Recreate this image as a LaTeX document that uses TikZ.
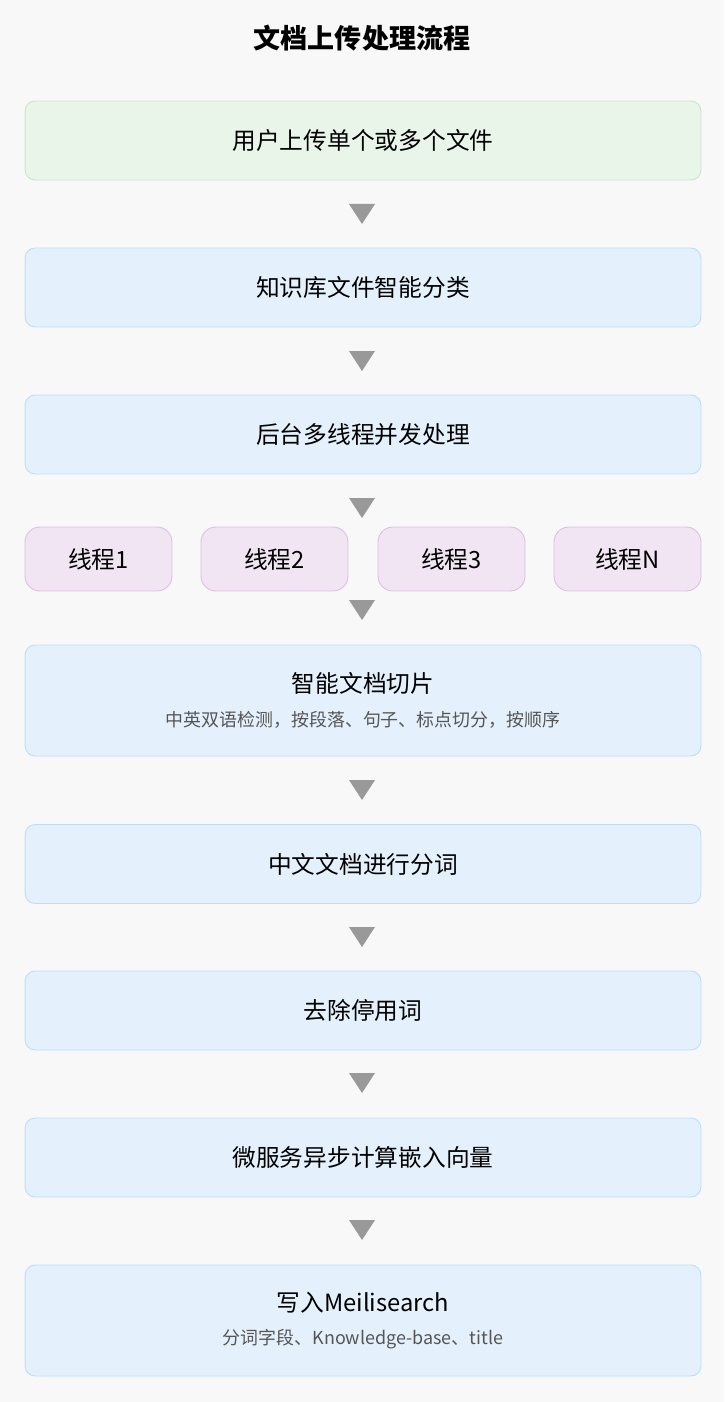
\documentclass[tikz,border=0pt]{standalone}
\usepackage{fontspec}
\setmainfont{Noto Sans CJK SC}
\usetikzlibrary{calc}
\definecolor{pagebg}{HTML}{F8F8F9}
\definecolor{greenfill}{HTML}{EAF5EA}
\definecolor{greenline}{HTML}{C8E6C9}
\definecolor{bluefill}{HTML}{E4F1FC}
\definecolor{blueline}{HTML}{BBDEFB}
\definecolor{purplefill}{HTML}{F1E5F4}
\definecolor{purpleline}{HTML}{DDBDE3}
\definecolor{tipgray}{HTML}{999999}
\definecolor{subgray}{HTML}{555555}

\begin{document}
\begin{tikzpicture}[x=.02cm,y=-.02cm,
  stage/.style={draw=blueline,fill=bluefill,rounded corners=.2cm,line width=.5pt,
    minimum width=13.52cm,minimum height=1.58cm,font=\fontsize{13.5}{16}\selectfont},
  tall/.style={minimum height=2.22cm,align=center},
  thread/.style={draw=purpleline,fill=purplefill,rounded corners=.3cm,line width=.5pt,
    minimum width=2.94cm,minimum height=1.28cm,font=\fontsize{13.5}{16}\selectfont},
  tip/.style={fill=tipgray}]
\fill[pagebg](0,0)rectangle(724,1402);
\useasboundingbox(0,0)rectangle(724,1402);
\node[font=\bfseries\fontsize{15.4}{18}\selectfont](title)at(362,38){文档上传处理流程};
\node[stage,draw=greenline,fill=greenfill](upload)at(363,140.5){用户上传单个或多个文件};
\node[stage](classify)at(363,287.5){知识库文件智能分类};
\node[stage](threads)at(363,434.5){后台多线程并发处理};
\node[thread](t1)at(98.5,559){线程1};
\node[thread](t2)at(274.5,559){线程2};
\node[thread](t3)at(451.5,559){线程3};
\node[thread](tn)at(627.5,559){线程N};
\node[stage,tall](slice)at(363,700.5){智能文档切片\\[3pt]
  {\fontsize{10.2}{12}\selectfont\color{subgray}中英双语检测，按段落、句子、标点切分，按顺序}};
\node[stage](segment)at(363,864){中文文档进行分词};
\node[stage](stopword)at(363,1010.5){去除停用词};
\node[stage](embed)at(363,1157.5){微服务异步计算嵌入向量};
\node[stage,tall](write)at(363,1320.5){写入Meilisearch\\[3pt]
  {\fontsize{10.2}{12}\selectfont\color{subgray}分词字段、Knowledge-base、title}};
% down markers
\foreach \y in {204,351,498,600,780,927,1073,1220}
  \fill[tip](349,\y)--(375,\y)--(362,\y+20)--cycle;
\end{tikzpicture}
\end{document}
